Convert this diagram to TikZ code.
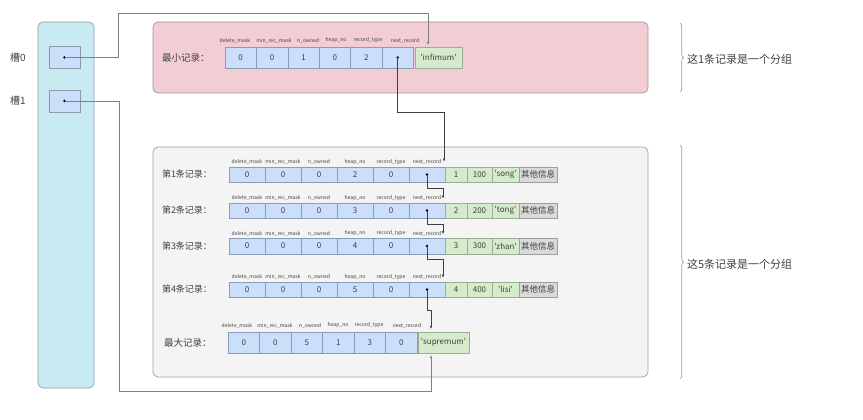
\documentclass[tikz,border=0pt]{standalone}
\usepackage{fontspec}
\setmainfont{Noto Sans CJK SC}
\usetikzlibrary{arrows.meta,decorations.pathreplacing,calc}
\definecolor{slotfill}{HTML}{C8EAF2}
\definecolor{slotdraw}{HTML}{8C9CA4}
\definecolor{bluefill}{HTML}{CCDFFA}
\definecolor{bluedraw}{HTML}{8A9CB8}
\definecolor{greenfill}{HTML}{D5EBCC}
\definecolor{greendraw}{HTML}{9AAE94}
\definecolor{grayfill}{HTML}{DADADA}
\definecolor{pinkfill}{HTML}{F2CDD4}
\definecolor{pinkdraw}{HTML}{A89096}
\definecolor{boxfill}{HTML}{F4F4F4}
\definecolor{boxdraw}{HTML}{9E9E9E}
\definecolor{txt}{HTML}{404040}
\definecolor{linec}{HTML}{404040}
\definecolor{slotline}{HTML}{808080}
\newcommand\qt{\textquotesingle}
\begin{document}
\begin{tikzpicture}[x=1pt,y=-1pt,
  every node/.style={text=txt, inner sep=0pt, outer sep=0pt},
  cellbase/.style={draw, line width=0.5pt, font=\fontsize{8}{9}\selectfont},
  bcell/.style={cellbase, fill=bluefill, draw=bluedraw},
  gcell/.style={cellbase, fill=greenfill, draw=greendraw},
  ocell/.style={cellbase, fill=grayfill, draw=boxdraw, font=\fontsize{8.5}{9}\selectfont},
  hdr/.style={font=\fontsize{5.1}{6}\selectfont},
  hdrsmall/.style={font=\fontsize{5.1}{6}\selectfont},
  rowlabel/.style={anchor=west, font=\fontsize{9}{10}\selectfont},
  conn/.style={draw=linec, line width=0.6pt, -{Latex[length=3.2pt,width=2.6pt]}},
  slotconn/.style={draw=slotline, line width=0.8pt, -{Latex[length=3.2pt,width=2.6pt]}},
  grpbrace/.style={draw=boxdraw, line width=0.7pt, decorate, decoration={brace, amplitude=3.5pt}},
  grptext/.style={anchor=west, font=\fontsize{11}{12}\selectfont},
  slotbox/.style={draw=slotdraw, fill=bluefill, line width=0.6pt, minimum width=31, minimum height=22}
]
\useasboundingbox (0,0) rectangle (863,420);

% containers
\draw[draw=slotdraw, fill=slotfill, line width=0.7pt, rounded corners=5pt] (38,22) rectangle (94,388);
\draw[draw=pinkdraw, fill=pinkfill, line width=0.7pt, rounded corners=5pt] (153,22) rectangle (648,93);
\draw[draw=boxdraw, fill=boxfill, line width=0.7pt, rounded corners=5pt] (153,147) rectangle (648,377);

% slots
\node[slotbox] (s0) at (64.5,57.5) {};
\node[slotbox] (s1) at (64.5,101) {};
\fill (s0.center) circle (1.3);
\fill (s1.center) circle (1.3);
\node[font=\fontsize{10}{11}\selectfont] (l0) at (18,58) {槽0};
\node[font=\fontsize{10}{11}\selectfont] (l1) at (18,101) {槽1};

% infimum row
\node[rowlabel, font=\fontsize{9.5}{10}\selectfont] (infl) at (162,57.5) {最小记录：};
\foreach \v [count=\i from 0] in {0,0,1,0,2,{}} {
  \node[bcell, minimum width=31.4, minimum height=21] (inf-b\i) at ({225+31.4*\i+15.7},57.5) {\v};
}
\foreach \h/\hx [count=\i from 0] in {delete\_mask/235,min\_rec\_mask/274,n\_owned/308,heap\_no/336,record\_type/368,next\_record/405} {
  \node[hdr] (inf-h\i) at (\hx,40.5) {\h};
}
\node[gcell, minimum width=47, minimum height=21] (inf-g) at (438.5,57.5) {\qt infimum\qt};
\fill (inf-b5.center) circle (1.3);

% ordinary records
\foreach \r/\yc/\hn/\a/\b/\c in {1/174.5/2/1/100/song,2/210.5/3/2/200/tong,3/246/4/3/300/zhan,4/289.5/5/4/400/lisi} {
  \node[rowlabel] (r\r-l) at (162,\yc) {第\r 条记录：};
  \foreach \v [count=\i from 0] in {0,0,0,\hn,0,{}} {
    \node[bcell, minimum width=36, minimum height=15.5] (r\r-b\i) at ({229+36*\i+18},\yc) {\v};
  }
  \foreach \h [count=\i from 0] in {delete\_mask,min\_rec\_mask,n\_owned,heap\_no,record\_type,next\_record} {
    \node[hdrsmall] (r\r-h\i) at ({229+36*\i+18},\yc-12.5) {\h};
  }
  \node[gcell, minimum width=22, minimum height=15.5] (r\r-g1) at (456,\yc) {\a};
  \node[gcell, minimum width=25, minimum height=15.5] (r\r-g2) at (479.5,\yc) {\b};
  \node[gcell, minimum width=27, minimum height=15.5] (r\r-g3) at (505.5,\yc) {\qt\c\qt};
  \node[ocell, minimum width=38, minimum height=15.5] (r\r-o) at (538,\yc) {其他信息};
  \fill (r\r-b5.center) circle (1.3);
}

% supremum row
\node[rowlabel, font=\fontsize{9.5}{10}\selectfont] (supl) at (164,342.5) {最大记录：};
\foreach \v [count=\i from 0] in {0,0,5,1,3,0} {
  \node[bcell, minimum width=31.5, minimum height=21] (sup-b\i) at ({228+31.5*\i+15.75},342.5) {\v};
}
\foreach \h/\hx [count=\i from 0] in {delete\_mask/237,min\_rec\_mask/275,n\_owned/310,heap\_no/338,record\_type/369,next\_record/407} {
  \node[hdr] (sup-h\i) at (\hx,325.5) {\h};
}
\node[gcell, minimum width=51, minimum height=21] (sup-g) at (443.5,342.5) {\qt supremum\qt};

% next_record connectors
\draw[conn] (inf-b5.center) -- ++(0,55) -| ($(r1-g1.north west)+(-1,-5)$);
\foreach \r/\s in {1/2,2/3,3/4} {
  \draw[conn] (r\r-b5.center) -- ++(0,13.5) -| ($(r\s-g1.north west)+(-2,-4)$);
}
\draw[conn] (r4-b5.center) -- ++(0,21) -| ($(sup-g.north west)+(13,-3)$);

% slot connectors
\coordinate (k0) at (118,13);
\coordinate (k1) at (119,391);
\draw[slotconn] (s0.center) -| (k0) -| ($(inf-g.north west)+(13,-2)$);
\draw[slotconn] (s1.center) -| (k1) -| ($(sup-g.south west)+(13,2)$);

% group braces
\draw[grpbrace] (680,23) -- (680,92);
\draw[grpbrace] (680,145) -- (680,379);
\node[grptext] (t1) at (687,59) {这1条记录是一个分组};
\node[grptext] (t5) at (687,264) {这5条记录是一个分组};
\end{tikzpicture}
\end{document}
